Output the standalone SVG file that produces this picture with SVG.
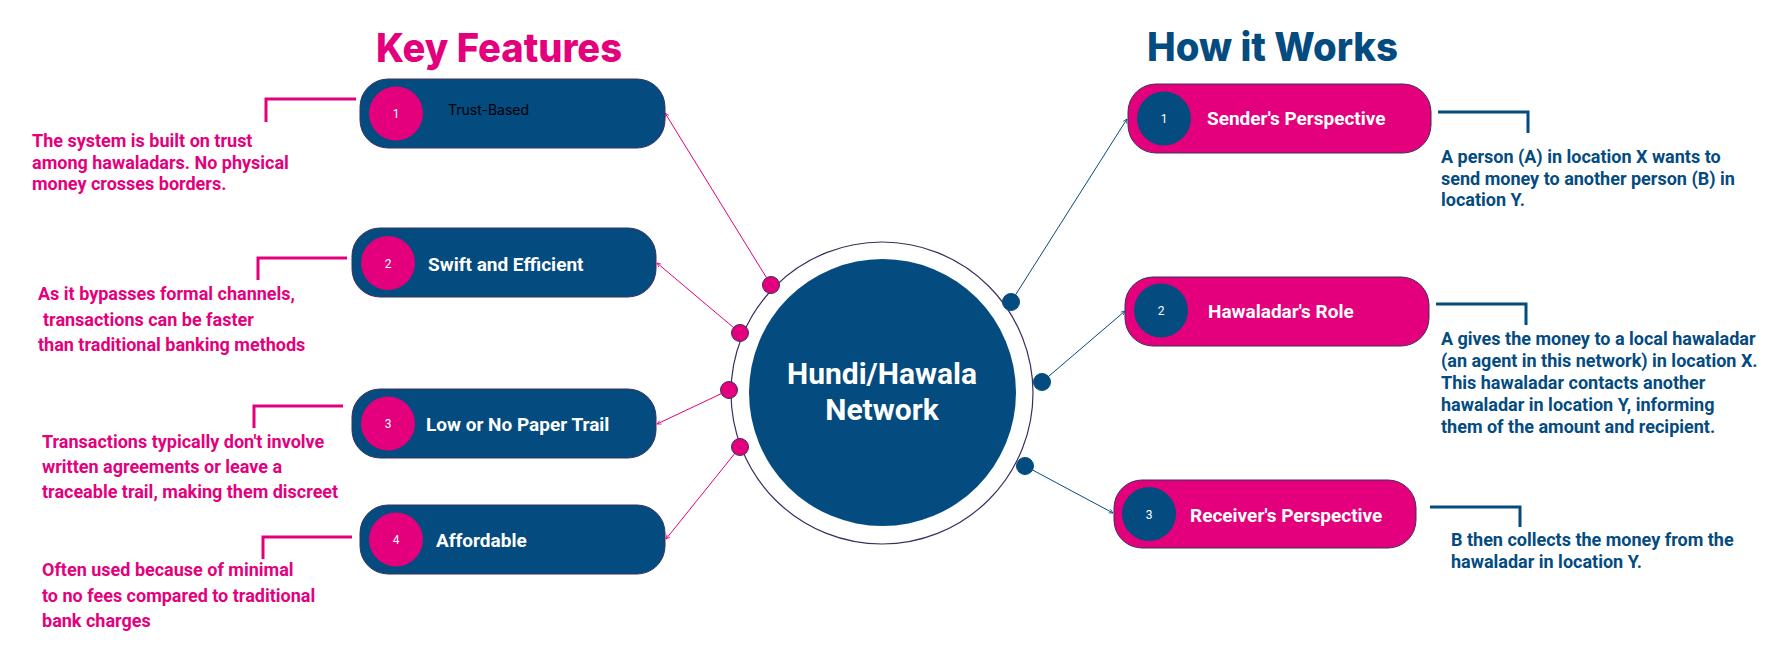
<svg xmlns="http://www.w3.org/2000/svg" width="1787" height="672" viewBox="0 0 1787 672">
<defs>
<style>
.title{font-family:Inter,"Liberation Sans",sans-serif;font-weight:800;font-size:40px}
.pk{fill:#E4007C}
.bl{fill:#044B7F}
.pill-b{fill:#044B7F;stroke:#3a3060;stroke-width:1}
.pill-p{fill:#E4007C;stroke:#3a3060;stroke-width:1}
.num{font-family:Roboto,"Liberation Sans",sans-serif;font-size:12px;fill:#fff;text-anchor:middle}
.lbl{font-family:Roboto,"Liberation Sans",sans-serif;font-weight:700;font-size:19px;fill:#fff}
.desc{font-family:Roboto,"Liberation Sans",sans-serif;font-weight:700;font-size:18px}
.brk-p{fill:none;stroke:#E4007C;stroke-width:3}
.brk-b{fill:none;stroke:#044B7F;stroke-width:3}
.con-p{stroke:#E4007C;stroke-width:1}
.con-b{stroke:#044B7F;stroke-width:1}
.dot-p{fill:#E4007C;stroke:#3a3060;stroke-width:1}
.dot-b{fill:#044B7F;stroke:#044B7F;stroke-width:1}
</style>
<marker id="ap" viewBox="0 0 10 10" refX="9" refY="5" markerWidth="5" markerHeight="5" markerUnits="userSpaceOnUse" orient="auto"><path d="M1 1 L9 5 L1 9" fill="none" stroke="#E4007C" stroke-width="1.5"/></marker>
<marker id="ab" viewBox="0 0 10 10" refX="9" refY="5" markerWidth="5" markerHeight="5" markerUnits="userSpaceOnUse" orient="auto"><path d="M1 1 L9 5 L1 9" fill="none" stroke="#044B7F" stroke-width="1.5"/></marker>
</defs>
<rect width="1787" height="672" fill="#fff"/>

<text class="title pk" x="376" y="62" textLength="246" lengthAdjust="spacingAndGlyphs">Key Features</text>
<text class="title bl" x="1147" y="61" textLength="251" lengthAdjust="spacingAndGlyphs">How it Works</text>

<g id="connectors">
<line class="con-p" x1="771" y1="285" x2="665" y2="113" marker-end="url(#ap)"/>
<line class="con-p" x1="740" y1="333" x2="657" y2="263" marker-end="url(#ap)"/>
<line class="con-p" x1="729" y1="390" x2="657" y2="424" marker-end="url(#ap)"/>
<line class="con-p" x1="740" y1="447" x2="666" y2="539" marker-end="url(#ap)"/>
<line class="con-b" x1="1011" y1="302" x2="1127" y2="119" marker-end="url(#ab)"/>
<line class="con-b" x1="1042" y1="382" x2="1125" y2="311" marker-end="url(#ab)"/>
<line class="con-b" x1="1025" y1="466" x2="1113" y2="513" marker-end="url(#ab)"/>
<path class="brk-p" d="M356 99 H266 V122"/>
<path class="brk-p" d="M347 258 H258 V280"/>
<path class="brk-p" d="M343 406 H254 V428"/>
<path class="brk-p" d="M352 537 H263 V559"/>
<path class="brk-b" d="M1438 112 H1528 V133"/>
<path class="brk-b" d="M1436 304 H1526 V325"/>
<path class="brk-b" d="M1430 507 H1520 V527"/>
</g>

<g id="center">
<circle cx="882" cy="393" r="151" fill="#fff" stroke="#3a3060" stroke-width="1.2"/>
<circle cx="882.5" cy="392.5" r="133.5" fill="#044B7F"/>
<text class="lbl" x="882" y="384" text-anchor="middle" style="font-size:30px">Hundi/Hawala</text>
<text class="lbl" x="882" y="420" text-anchor="middle" style="font-size:30px">Network</text>
<circle class="dot-p" cx="771" cy="285" r="8.5"/>
<circle class="dot-p" cx="740" cy="333" r="8.5"/>
<circle class="dot-p" cx="729" cy="390" r="8.5"/>
<circle class="dot-p" cx="740" cy="447" r="8.5"/>
<circle class="dot-b" cx="1011" cy="302" r="8.5"/>
<circle class="dot-b" cx="1042" cy="382" r="8.5"/>
<circle class="dot-b" cx="1025" cy="466" r="8.5"/>
</g>

<g id="feature-1">
<rect class="pill-b" x="360" y="79" width="305" height="69" rx="28"/>
<circle class="pk" cx="396" cy="113.5" r="27"/>
<text class="num" x="396" y="118">1</text>
<text x="448" y="115" font-family="Inter,'Liberation Sans',sans-serif" font-size="14" fill="#000">Trust-Based</text>
<text class="desc pk"><tspan x="32" y="147">The system is built on trust</tspan><tspan x="32" y="168.5">among hawaladars. No physical</tspan><tspan x="32" y="190">money crosses borders.</tspan></text>
</g>

<g id="feature-2">
<rect class="pill-b" x="352" y="228" width="304" height="69" rx="28"/>
<circle class="pk" cx="388" cy="263" r="27"/>
<text class="num" x="388" y="267.5">2</text>
<text class="lbl" x="428" y="271">Swift and Efficient</text>
<text class="desc pk"><tspan x="38" y="300">As it bypasses formal channels,</tspan><tspan x="43" y="325.5">transactions can be faster</tspan><tspan x="38" y="351">than traditional banking methods</tspan></text>
</g>

<g id="feature-3">
<rect class="pill-b" x="352" y="389" width="304" height="69" rx="28"/>
<circle class="pk" cx="388" cy="423.5" r="27"/>
<text class="num" x="388" y="428">3</text>
<text class="lbl" x="426" y="431">Low or No Paper Trail</text>
<text class="desc pk"><tspan x="42" y="448">Transactions typically don't involve</tspan><tspan x="42" y="473">written agreements or leave a</tspan><tspan x="42" y="498">traceable trail, making them discreet</tspan></text>
</g>

<g id="feature-4">
<rect class="pill-b" x="360" y="505" width="305" height="69" rx="28"/>
<circle class="pk" cx="396" cy="539.5" r="27"/>
<text class="num" x="396" y="544">4</text>
<text class="lbl" x="436" y="547">Affordable</text>
<text class="desc pk"><tspan x="42" y="576">Often used because of minimal</tspan><tspan x="42" y="601.5">to no fees compared to traditional</tspan><tspan x="42" y="627">bank charges</tspan></text>
</g>

<g id="step-1">
<rect class="pill-p" x="1128" y="84" width="303" height="69" rx="28"/>
<circle class="bl" cx="1164" cy="118.5" r="27"/>
<text class="num" x="1164" y="123">1</text>
<text class="lbl" x="1207" y="125">Sender's Perspective</text>
<text class="desc bl"><tspan x="1441" y="163">A person (A) in location X wants to</tspan><tspan x="1441" y="184.5">send money to another person (B) in</tspan><tspan x="1441" y="206">location Y.</tspan></text>
</g>

<g id="step-2">
<rect class="pill-p" x="1125" y="277" width="304" height="69" rx="28"/>
<circle class="bl" cx="1161" cy="310.5" r="27"/>
<text class="num" x="1161" y="315">2</text>
<text class="lbl" x="1208" y="318">Hawaladar's Role</text>
<text class="desc bl"><tspan x="1441" y="345">A gives the money to a local hawaladar</tspan><tspan x="1441" y="367">(an agent in this network) in location X.</tspan><tspan x="1441" y="389">This hawaladar contacts another</tspan><tspan x="1441" y="411">hawaladar in location Y, informing</tspan><tspan x="1441" y="433">them of the amount and recipient.</tspan></text>
</g>

<g id="step-3">
<rect class="pill-p" x="1114" y="480" width="302" height="68" rx="28"/>
<circle class="bl" cx="1149" cy="514" r="27"/>
<text class="num" x="1149" y="518.5">3</text>
<text class="lbl" x="1190" y="522">Receiver's Perspective</text>
<text class="desc bl"><tspan x="1451" y="546">B then collects the money from the</tspan><tspan x="1451" y="568">hawaladar in location Y.</tspan></text>
</g>
</svg>
